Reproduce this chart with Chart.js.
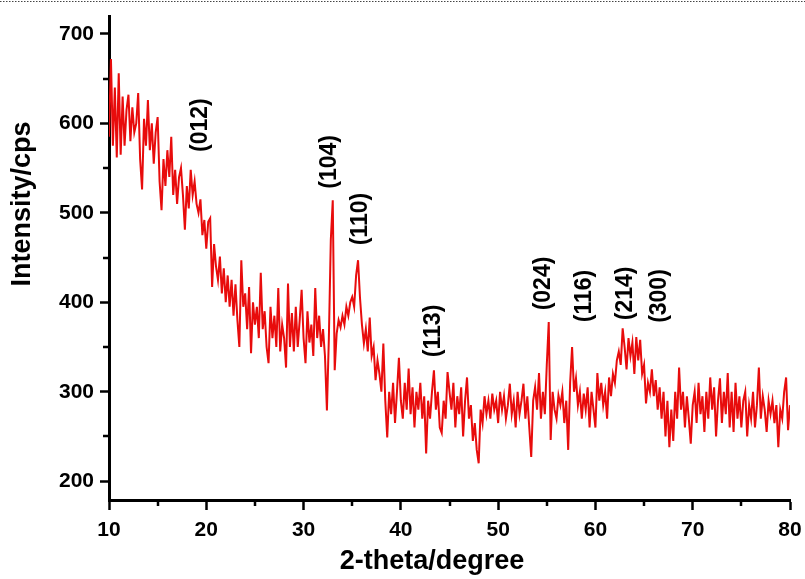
<!DOCTYPE html>
<html>
<head>
<meta charset="utf-8">
<script src="https://cdn.jsdelivr.net/npm/chart.js@4.4.1/dist/chart.umd.min.js"></script>
<style>
  html, body { margin: 0; padding: 0; background: #fff; }
  #c { display: block; }
</style>
</head>
<body>
<canvas id="c" width="805" height="579"></canvas>
<script>
// ---- data ----
const twoThetaStart = 10;   // first sample, degrees
const twoThetaStep = 0.2;   // sampling step, degrees
// intensity (cps), one row per degree: x.0, x.2, x.4, x.6, x.8
const intensity = [
  585, 672, 575, 640, 562,   // 10
  656, 565, 630, 575, 615,   // 11
  632, 580, 618, 590, 600,   // 12
  634, 560, 526, 605, 575,   // 13
  626, 570, 600, 555, 590,   // 14
  607, 535, 503, 560, 530,   // 15
  570, 540, 585, 520, 548,   // 16
  510, 540, 550, 520, 481,   // 17
  530, 505, 548, 520, 535,   // 18
  510, 500, 515, 475, 492,   // 19
  460, 490, 494, 417, 465,   // 20
  440, 425, 451, 410, 438,   // 21
  400, 430, 395, 425, 385,   // 22
  420, 380, 350, 447, 395,   // 23
  410, 370, 417, 343, 400,   // 24
  375, 395, 360, 433, 370,   // 25
  390, 350, 332, 395, 360,   // 26
  385, 350, 416, 345, 375,   // 27
  360, 327, 421, 350, 388,   // 28
  345, 395, 350, 380, 414,   // 29
  360, 332, 390, 355, 375,   // 30
  340, 416, 360, 385, 350,   // 31
  370, 340, 279, 360, 470,   // 32
  514, 324, 365, 380, 372,   // 33
  385, 375, 395, 385, 400,   // 34
  406, 395, 430, 447, 405,   // 35
  375, 354, 370, 345, 383,   // 36
  340, 350, 313, 335, 320,   // 37
  300, 354, 290, 249, 300,   // 38
  275, 310, 265, 300, 338,   // 39
  290, 270, 310, 280, 326,   // 40
  275, 305, 260, 300, 280,   // 41
  310, 270, 295, 231, 290,   // 42
  270, 300, 324, 280, 300,   // 43
  260, 254, 290, 270, 322,   // 44
  300, 280, 310, 260, 295,   // 45
  275, 305, 250, 290, 316,   // 46
  270, 285, 245, 265, 235,   // 47
  220, 280, 265, 295, 275,   // 48
  290, 270, 298, 280, 290,   // 49
  265, 300, 280, 295, 270,   // 50
  285, 309, 275, 290, 260,   // 51
  300, 275, 290, 309, 270,   // 52
  295, 260, 227, 290, 305,   // 53
  280, 321, 270, 300, 275,   // 54
  330, 378, 246, 300, 280,   // 55
  270, 296, 285, 300, 265,   // 56
  290, 235, 310, 350, 300,   // 57
  315, 285, 300, 270, 298,   // 58
  280, 305, 260, 300, 280,   // 59
  260, 321, 290, 310, 285,   // 60
  300, 270, 316, 295, 320,   // 61
  310, 335, 345, 330, 371,   // 62
  350, 325, 360, 340, 355,   // 63
  320, 361, 335, 358, 320,   // 64
  330, 287, 310, 300, 325,   // 65
  295, 313, 280, 305, 270,   // 66
  300, 250, 290, 238, 280,   // 67
  245, 300, 270, 327, 280,   // 68
  300, 260, 295, 270, 242,   // 69
  285, 300, 265, 310, 275,   // 70
  295, 255, 300, 270, 316,   // 71
  280, 305, 250, 290, 315,   // 72
  265, 300, 275, 321, 260,   // 73
  300, 255, 310, 270, 295,   // 74
  260, 290, 300, 250, 285,   // 75
  270, 300, 260, 285, 327,   // 76
  270, 295, 280, 255, 290,   // 77
  275, 290, 265, 285, 238,   // 78
  280, 270, 300, 316, 257,   // 79
  285                        // 80
];
const xTicks = [10, 20, 30, 40, 50, 60, 70, 80];
const xMinorTicks = [15, 25, 35, 45, 55, 65, 75];
const yTicks = [200, 300, 400, 500, 600, 700];
const yMinorTicks = [250, 350, 450, 550, 650];
// peak labels (Miller indices) and where their centres sit, in data units
const hklLabels = ['(012)', '(104)', '(110)', '(113)', '(024)', '(116)', '(214)', '(300)'];
const hklTheta = [19.3, 32.55, 35.75, 43.3, 54.6, 58.8, 63.0, 66.5];
const hklIntensity = [598, 557, 493, 368, 421, 407, 410, 407];

const points = intensity.map((v, i) => ({ x: +(twoThetaStart + i * twoThetaStep).toFixed(1), y: v }));

const FONT = '"Liberation Sans", Arial, Helvetica, sans-serif';

const decor = {
  id: 'decor',
  afterDraw(chart) {
    const ctx = chart.ctx;
    const xs = chart.scales.x, ys = chart.scales.y;
    const ca = chart.chartArea;
    ctx.save();
    // minor ticks
    ctx.strokeStyle = '#000';
    ctx.lineWidth = 2.5;
    ctx.beginPath();
    xMinorTicks.forEach(v => {
      const px = Math.round(xs.getPixelForValue(v));
      ctx.moveTo(px, ca.bottom); ctx.lineTo(px, ca.bottom + 6);
    });
    yMinorTicks.forEach(v => {
      const py = Math.round(ys.getPixelForValue(v));
      ctx.moveTo(ca.left, py); ctx.lineTo(ca.left - 6, py);
    });
    ctx.stroke();
    // peak labels
    ctx.fillStyle = '#000';
    ctx.font = 'bold 23px ' + FONT;
    ctx.textAlign = 'center';
    ctx.textBaseline = 'middle';
    hklLabels.forEach((t, i) => {
      const px = xs.getPixelForValue(hklTheta[i]);
      const py = ys.getPixelForValue(hklIntensity[i]);
      ctx.save();
      ctx.translate(px, py);
      ctx.rotate(-Math.PI / 2);
      ctx.fillText(t, 0, 1);
      ctx.restore();
    });
    // axis titles
    ctx.font = 'bold 27px ' + FONT;
    ctx.fillText('2-theta/degree', 432, 562);
    ctx.save();
    ctx.translate(23, 204);
    ctx.rotate(-Math.PI / 2);
    ctx.fillText('Intensity/cps', 0, 0);
    ctx.restore();
    // dotted page edge at the top
    ctx.strokeStyle = '#444';
    ctx.lineWidth = 1;
    ctx.setLineDash([1.5, 1.5]);
    ctx.beginPath();
    ctx.moveTo(0, 1.5); ctx.lineTo(805, 1.5);
    ctx.stroke();
    ctx.restore();
  }
};

new Chart(document.getElementById('c'), {
  type: 'line',
  data: {
    datasets: [{
      data: points,
      borderColor: 'rgb(232,12,12)',
      borderWidth: 2,
      pointRadius: 0,
      tension: 0,
      fill: false
    }]
  },
  options: {
    responsive: false,
    animation: false,
    devicePixelRatio: 1,
    layout: { padding: { left: 0, right: 15, top: 16, bottom: 0 } },
    plugins: { legend: { display: false }, tooltip: { enabled: false } },
    scales: {
      x: {
        type: 'linear',
        min: 10, max: 80,
        afterBuildTicks: s => { s.ticks = xTicks.map(v => ({ value: v })); },
        afterFit: s => { s.height = 79; s.paddingLeft = 0; s.paddingRight = 0; },
        ticks: { color: '#000', font: { family: FONT, size: 21, weight: 'bold' }, padding: 8, maxRotation: 0, autoSkip: false },
        grid: { drawOnChartArea: false, drawTicks: true, tickLength: 10, tickWidth: 2.5, tickColor: '#000' },
        border: { display: true, width: 3, color: '#000' }
      },
      y: {
        type: 'linear',
        min: 179, max: 720,
        afterBuildTicks: s => { s.ticks = yTicks.map(v => ({ value: v })); },
        afterFit: s => { s.width = 109; s.paddingTop = 0; s.paddingBottom = 0; },
        ticks: { color: '#000', font: { family: FONT, size: 21, weight: 'bold' }, padding: 6, autoSkip: false },
        grid: { drawOnChartArea: false, drawTicks: true, tickLength: 9, tickWidth: 2.5, tickColor: '#000' },
        border: { display: true, width: 3, color: '#000' }
      }
    }
  },
  plugins: [decor]
});
</script>
</body>
</html>
